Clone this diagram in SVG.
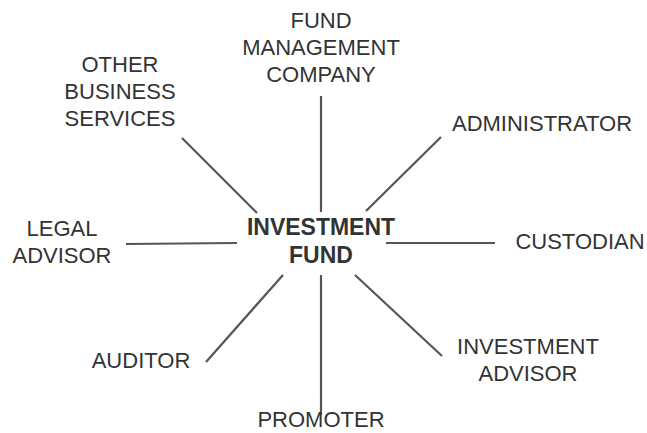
<svg xmlns="http://www.w3.org/2000/svg" width="647" height="433" viewBox="0 0 647 433">
<style>
.t{font-family:"Liberation Sans",Arial,sans-serif;font-size:22px;fill:#333;text-anchor:middle}
.b{font-family:"Liberation Sans",Arial,sans-serif;font-size:23px;font-weight:bold;fill:#333;text-anchor:middle}
.c line{stroke:#555;stroke-width:2.2}
</style>
<rect width="647" height="433" fill="#fff"/>
<g class="c" id="connectors">
<line x1="321" y1="96" x2="321" y2="212"/>
<line x1="182" y1="138" x2="257" y2="213"/>
<line x1="441" y1="137" x2="366" y2="211"/>
<line x1="126" y1="244" x2="237" y2="243"/>
<line x1="386" y1="243" x2="495" y2="243"/>
<line x1="283" y1="275" x2="206" y2="362"/>
<line x1="321" y1="275" x2="321" y2="415"/>
<line x1="355" y1="275" x2="442" y2="356"/>
</g>
<g id="center"><text class="b" x="321" y="235">INVESTMENT</text><text class="b" x="321" y="263">FUND</text></g>
<g id="fmc"><text class="t" x="321" y="28">FUND</text><text class="t" x="321" y="55">MANAGEMENT</text><text class="t" x="321" y="82">COMPANY</text></g>
<g id="obs"><text class="t" x="120" y="72">OTHER</text><text class="t" x="120" y="99">BUSINESS</text><text class="t" x="120" y="126">SERVICES</text></g>
<g id="admin"><text class="t" x="542" y="131">ADMINISTRATOR</text></g>
<g id="legal"><text class="t" x="62" y="236">LEGAL</text><text class="t" x="62" y="263">ADVISOR</text></g>
<g id="custodian"><text class="t" x="580" y="249">CUSTODIAN</text></g>
<g id="auditor"><text class="t" x="141" y="368">AUDITOR</text></g>
<g id="promoter"><text class="t" x="321" y="427">PROMOTER</text></g>
<g id="advisor"><text class="t" x="528" y="354">INVESTMENT</text><text class="t" x="528" y="381">ADVISOR</text></g>
</svg>
